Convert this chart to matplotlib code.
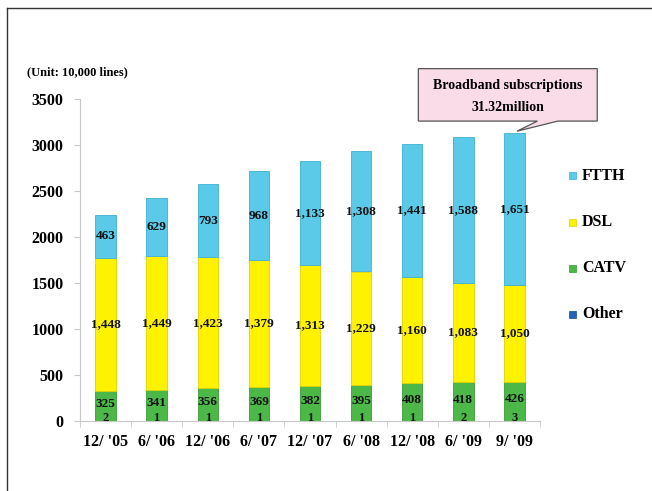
import matplotlib.pyplot as plt
import numpy as np
from matplotlib.lines import Line2D
from matplotlib.patches import Polygon

plt.rcParams['font.family'] = ['Liberation Serif', 'DejaVu Serif']
plt.rcParams['font.weight'] = 'bold'

periods = ["12/ '05", "6/ '06", "12/ '06", "6/ '07", "12/ '07",
           "6/ '08", "12/ '08", "6/ '09", "9/ '09"]
other = [2, 1, 1, 1, 1, 1, 1, 2, 3]
catv = [325, 341, 356, 369, 382, 395, 408, 418, 426]
dsl = [1448, 1449, 1423, 1379, 1313, 1229, 1160, 1083, 1050]
ftth = [463, 629, 793, 968, 1133, 1308, 1441, 1588, 1651]
total_label = "Broadband subscriptions\n31.32million"

series = [("Other", other, "#2063b8", "#164a8c"),
          ("CATV", catv, "#4cb848", "#3c9a3a"),
          ("DSL", dsl, "#fff200", "#e0d400"),
          ("FTTH", ftth, "#5bc9e8", "#3fb0cf")]

fig = plt.figure(figsize=(6.52, 4.91), dpi=100)
ax = fig.add_axes([80 / 652, 1 - 421 / 491, 460 / 652, 322 / 491])

x = np.arange(len(periods))
bottom = np.zeros(len(periods))
for name, vals, color, edge in series:
    vals = np.array(vals, dtype=float)
    ax.bar(x, vals, 0.4, bottom=bottom, color=color, edgecolor=edge,
           linewidth=0.6, label=name)
    for xi, b, v in zip(x, bottom, vals):
        if name == "Other":
            # too thin to hold its label, so sit it just above the axis
            ax.annotate(f"{int(v):,}", (xi, b + v), xytext=(0, 2.2),
                        textcoords="offset points", ha="center", va="center",
                        fontsize=9, color="#111111")
        elif name == "CATV":
            ax.annotate(f"{int(v):,}", (xi, b + v / 2), xytext=(0, 1.5),
                        textcoords="offset points", ha="center", va="center",
                        fontsize=9.5, color="#111111")
        else:
            ax.text(xi, b + v / 2, f"{int(v):,}", ha="center", va="center",
                    fontsize=9.5, color="#111111")
    bottom += vals

ax.set_xlim(-0.5, len(periods) - 0.5)
ax.set_ylim(0, 3500)
ax.set_yticks(np.arange(0, 3501, 500))
ax.set_xticks(x)
ax.set_xticklabels(periods)
ax.set_xticks(np.arange(-0.5, len(periods), 1), minor=True)
for s in ("top", "right"):
    ax.spines[s].set_visible(False)
for s in ("left", "bottom"):
    ax.spines[s].set_color("#c8c8c8")
    ax.spines[s].set_linewidth(0.8)
ax.tick_params(axis="y", length=4, color="#c8c8c8", labelsize=11.5, pad=8)
ax.tick_params(axis="x", which="major", length=0, labelsize=11.5, pad=9)
ax.tick_params(axis="x", which="minor", length=4, color="#c8c8c8")

# legend on the right, top entry first
for i, (name, vals, color, edge) in enumerate(reversed(series)):
    yy = 1 - (176 + 46 * i) / 491
    fig.patches.append(plt.Rectangle((569 / 652, yy - 3.5 / 491), 7 / 652, 7 / 491,
                                     transform=fig.transFigure, facecolor=color,
                                     edgecolor=edge, linewidth=0.5))
    fig.text(582 / 652, yy, name, fontsize=11.5, va="center", ha="left")

fig.text(27 / 652, 1 - 72 / 491, "(Unit: 10,000 lines)", fontsize=9,
         va="center", ha="left")

# callout pointing at the last bar
last = len(periods) - 1
tip = (last + 0.05, bottom[-1] + 20)
callout = Polygon([(6.12, 3830), (9.62, 3830), (9.62, 3260), (8.85, 3260),
                   tip, (8.45, 3260), (6.12, 3260)], closed=True,
                  facecolor="#fadbe8", edgecolor="#555555", linewidth=0.9,
                  clip_on=False)
ax.add_patch(callout)
ax.text(7.87, 3530, total_label, ha="center", va="center", fontsize=10,
        linespacing=1.9, clip_on=False)

# outer frame
fig.add_artist(Line2D([7 / 652, 7 / 652], [0, 1 - 8 / 491], color="#333333",
                      linewidth=1, transform=fig.transFigure))
fig.add_artist(Line2D([7 / 652, 1], [1 - 8 / 491, 1 - 8 / 491], color="#333333",
                      linewidth=1, transform=fig.transFigure))

fig.savefig("out.png", dpi=100)
